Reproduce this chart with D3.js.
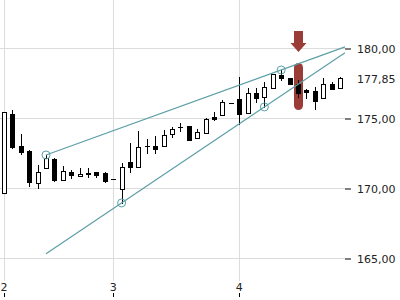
<!DOCTYPE html>
<html>
<head>
<meta charset="utf-8">
<script src="https://cdn.jsdelivr.net/npm/d3@7"></script>
<style>
  body { margin: 0; background: #fff; }
  text { font-family: "DejaVu Sans", sans-serif; font-size: 11px; fill: #222; }
</style>
</head>
<body>
<div id="chart"></div>
<script>
// candle data (one entry per bar)
var open  = [169.64,175.29,173.0,172.64,170.36,171.43,172.07,170.57,171.14,170.86,171.05,171.14,171.07,170.64,169.93,171.86,171.5,173.02,173.0,173.0,
             173.86,174.38,174.43,173.57,173.93,175.07,175.21,176.07,176.36,175.36,176.79,176.5,177.14,178.07,177.86,177.43,177.0,176.93,176.43,177.43,177.14];
var high  = [175.43,175.57,173.86,172.7,171.64,172.36,172.14,171.57,171.29,171.43,171.43,171.14,171.14,170.64,171.79,173.21,174.07,173.5,173.71,174.14,
             174.36,174.64,174.43,174.21,175.0,175.43,176.29,176.07,177.93,177.14,177.14,177.57,178.14,178.43,177.86,177.71,177.07,177.21,177.86,177.57,177.93];
var low   = [169.64,172.86,172.43,170.14,170.0,171.43,170.5,170.57,170.71,170.86,170.79,170.79,170.43,170.64,168.93,171.14,171.5,172.5,172.5,173.0,
             173.64,174.07,173.43,173.57,173.93,174.86,175.21,176.07,174.57,175.36,176.14,175.79,177.14,177.71,177.43,176.5,176.43,175.64,176.43,177.07,177.14];
var close = [175.43,172.93,172.57,170.43,171.14,172.14,170.57,171.21,170.93,171.0,171.0,170.93,170.5,170.64,171.5,171.5,172.93,173.0,172.79,173.79,
             174.21,174.36,173.43,174.0,174.93,174.93,176.14,176.07,175.29,176.79,176.43,177.21,178.14,177.86,177.43,176.79,176.86,176.21,177.43,177.07,177.85];

// day ticks on the x axis
var dayTickIndex = [0, 13, 28];
var dayTickLabels = ["2", "3", "4"];

// price axis
var priceTicks = [165, 170, 175, 180];

// trend lines: [index, price] anchors
var upperTrend = [[5, 172.36], [33, 178.43]];
var lowerTrend = [[14, 168.93], [31, 175.79]];
var trendStartIndex = 5;

// highlighted bar
var markIndex = 35;
var markTop = 178.93, markBottom = 175.57;

var width = 400, height = 300;
var plotRight = 345, gridBottom = 281;
var teal = "#5c9fa7", red = "#9c3c36";

var svg = d3.select("#chart").append("svg")
    .attr("width", width)
    .attr("height", height);

var x = d3.scaleLinear().domain([0, open.length - 1]).range([4, 340]);
var y = d3.scaleLinear().domain([165, 180]).range([258, 48]);

var crisp = v => Math.round(v) + 0.5;

// grid
svg.append("g").selectAll("line")
    .data(priceTicks)
    .enter().append("line")
    .attr("x1", 0).attr("x2", plotRight)
    .attr("y1", d => crisp(y(d))).attr("y2", d => crisp(y(d)))
    .attr("stroke", "#dcdcdc");

svg.append("g").selectAll("line")
    .data(dayTickIndex)
    .enter().append("line")
    .attr("x1", d => crisp(x(d))).attr("x2", d => crisp(x(d)))
    .attr("y1", 0).attr("y2", gridBottom)
    .attr("stroke", "#dcdcdc");

// right axis
var axis = svg.append("g")
    .attr("transform", "translate(" + plotRight + ",0.5)")
    .call(d3.axisRight(y)
        .tickValues(priceTicks)
        .tickSize(6)
        .tickPadding(6)
        .tickFormat(d => d3.format(".2f")(d).replace(".", ",")));
axis.select(".domain").remove();
axis.selectAll("line").attr("stroke", "#000");
axis.selectAll("text").attr("font-family", null).attr("font-size", null);

// last price label
svg.append("text")
    .attr("x", 357)
    .attr("y", y(close[close.length - 1]))
    .attr("dy", "0.4em")
    .text(d3.format(".2f")(close[close.length - 1]).replace(".", ","));

// bottom labels with small ticks underneath
var xt = svg.append("g").selectAll("g")
    .data(dayTickIndex)
    .enter().append("g");
xt.append("text")
    .attr("x", d => x(d))
    .attr("y", 291)
    .attr("text-anchor", "middle")
    .text((d, i) => dayTickLabels[i]);
xt.append("line")
    .attr("x1", d => crisp(x(d))).attr("x2", d => crisp(x(d)))
    .attr("y1", 293).attr("y2", 297)
    .attr("stroke", "#000");

// highlight bar + arrow
var mc = Math.round(x(markIndex));
svg.append("rect")
    .attr("x", mc - 4).attr("width", 9)
    .attr("y", y(markTop)).attr("height", y(markBottom) - y(markTop))
    .attr("rx", 4.5)
    .attr("fill", red);
svg.append("path")
    .attr("d", "M" + (mc - 4) + ",31 H" + (mc + 5) + " V43 H" + (mc + 8.5) +
               " L" + (mc + 0.5) + ",52 L" + (mc - 7.5) + ",43 H" + (mc - 4) + " Z")
    .attr("fill", red);

// candles
var candles = svg.append("g").selectAll("g")
    .data(d3.range(open.length))
    .enter().append("g");

candles.append("line")
    .attr("x1", i => Math.round(x(i)) + 0.5)
    .attr("x2", i => Math.round(x(i)) + 0.5)
    .attr("y1", i => Math.round(y(high[i])))
    .attr("y2", i => Math.round(y(low[i])) + 1)
    .attr("stroke", "#000");

candles.each(function(i) {
    var g = d3.select(this);
    var c = Math.round(x(i));
    var top = Math.round(y(Math.max(open[i], close[i])));
    var bot = Math.round(y(Math.min(open[i], close[i])));
    if (bot - top < 1) {
        g.append("line")
            .attr("x1", c - 2).attr("x2", c + 3)
            .attr("y1", top + 0.5).attr("y2", top + 0.5)
            .attr("stroke", "#000");
    } else {
        g.append("rect")
            .attr("x", c - 1.5).attr("width", 4)
            .attr("y", top + 0.5).attr("height", bot - top)
            .attr("fill", close[i] >= open[i] ? "#fff" : "#000")
            .attr("stroke", "#000");
    }
});

// trend lines
function trendAt(pts, i) {
    var k = (pts[1][1] - pts[0][1]) / (pts[1][0] - pts[0][0]);
    return pts[0][1] + k * (i - pts[0][0]);
}
var endIndex = x.invert(plotRight);

[upperTrend, lowerTrend].forEach(function(pts) {
    svg.append("line")
        .attr("x1", x(trendStartIndex)).attr("y1", y(trendAt(pts, trendStartIndex)))
        .attr("x2", x(endIndex)).attr("y2", y(trendAt(pts, endIndex)))
        .attr("stroke", teal)
        .attr("stroke-width", 1.2);
    svg.append("g").selectAll("circle")
        .data(pts)
        .enter().append("circle")
        .attr("cx", d => x(d[0]))
        .attr("cy", d => y(d[1]))
        .attr("r", 4)
        .attr("fill", "none")
        .attr("stroke", teal)
        .attr("stroke-width", 1);
});
</script>
</body>
</html>
